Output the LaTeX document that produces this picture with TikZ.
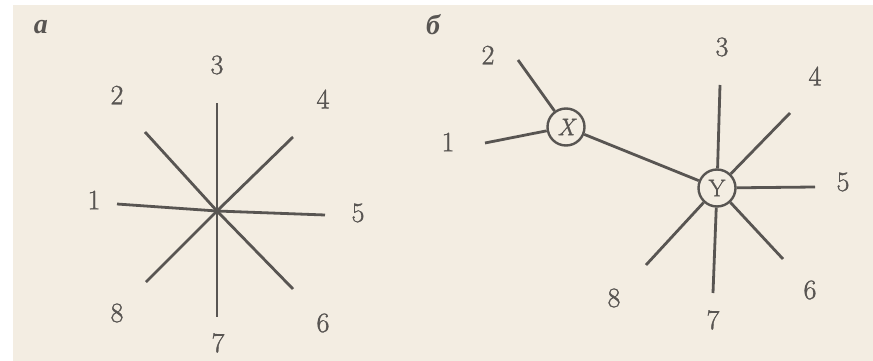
\documentclass[tikz,border=0pt]{standalone}
\usepackage{fontspec}
\newfontfamily\cyrfont{Liberation Serif}
\newfontfamily\digfont[FakeBold=1.2]{Latin Modern Roman}
\definecolor{paper}{RGB}{243,237,226}
\definecolor{ink}{RGB}{88,85,82}
\begin{document}
\begin{tikzpicture}[x=1pt,y=-1pt,
  edge/.style={draw=ink,line width=2.8pt},
  lbl/.style={text=ink,font=\digfont\fontsize{28}{30}\selectfont,inner sep=0pt},
  panel/.style={text=ink,font=\cyrfont\itshape\bfseries\fontsize{28}{30}\selectfont,inner sep=0pt},
  inode/.style={circle,draw=ink,line width=2.4pt,fill=paper,minimum size=37pt,inner sep=0pt,text=ink,font=\digfont\fontsize{24}{26}\selectfont}]
\useasboundingbox (0,0) rectangle (873,361);
\fill[white] (0,0) rectangle (873,361);
\fill[paper] (13,5) rectangle (873,361);
% panel a
\node[panel] (pa) at (41,27) {а};
\coordinate (c) at (217,211);
\coordinate (a1) at (117,204);
\coordinate (a2) at (145,132);
\coordinate (a3) at (217,103);
\coordinate (a4) at (293,137);
\coordinate (a5) at (325,215);
\coordinate (a6) at (293,289);
\coordinate (a7) at (217,317);
\coordinate (a8) at (146,282);
\foreach \i in {1,...,8} {\draw[edge] (c) -- (a\i);}
\fill[ink] (c) circle (3pt);
\node[lbl] (la1) at (94,200) {1};
\node[lbl] (la2) at (117,95) {2};
\node[lbl] (la3) at (217,65) {3};
\node[lbl] (la4) at (323,99) {4};
\node[lbl] (la5) at (358,213) {5};
\node[lbl] (la6) at (323,323) {6};
\node[lbl] (la7) at (218,343) {7};
\node[lbl] (la8) at (117,313) {8};
% panel b
\node[panel] (pb) at (433,25) {б};
\coordinate (b1) at (485,143);
\coordinate (b2) at (518,60);
\coordinate (b3) at (720,85);
\coordinate (b4) at (790,113);
\coordinate (b5) at (815,187);
\coordinate (b6) at (783,259);
\coordinate (b7) at (713,293);
\coordinate (b8) at (646,265);
\node[inode] (X) at (566,127) {\itshape X};
\node[inode] (Y) at (717,188) {Y};
\draw[edge] (X) -- (b1);
\draw[edge] (X) -- (b2);
\draw[edge] (X) -- (Y);
\foreach \i in {3,...,8} {\draw[edge] (Y) -- (b\i);}
\node[lbl] (lb1) at (448,142) {1};
\node[lbl] (lb2) at (488,55) {2};
\node[lbl] (lb3) at (722,47) {3};
\node[lbl] (lb4) at (815,76) {4};
\node[lbl] (lb5) at (843,182) {5};
\node[lbl] (lb6) at (810,290) {6};
\node[lbl] (lb7) at (713,320) {7};
\node[lbl] (lb8) at (614,298) {8};
\end{tikzpicture}
\end{document}
